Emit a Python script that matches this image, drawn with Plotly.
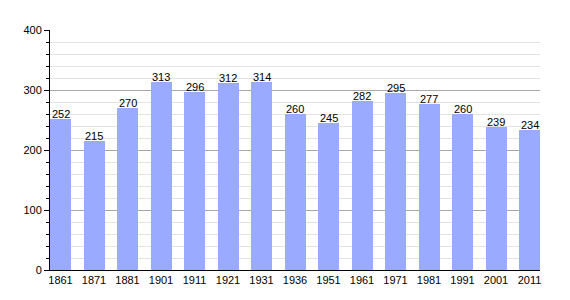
import plotly.graph_objects as go

years = ["1861", "1871", "1881", "1901", "1911", "1921", "1931", "1936",
         "1951", "1961", "1971", "1981", "1991", "2001", "2011"]
population = [252, 215, 270, 313, 296, 312, 314, 260, 245, 282, 295, 277, 260, 239, 234]

xpos = list(range(len(years)))
bw = 0.627

fig = go.Figure(go.Bar(
    x=xpos, y=population, width=bw,
    marker=dict(color="#99aaff", line=dict(width=0)),
    hoverinfo="x+y",
))

for xi, v in zip(xpos, population):
    fig.add_annotation(x=xi, y=v, text=str(v), showarrow=False,
                       yanchor="bottom", xanchor="center", yshift=-3,
                       font=dict(family="Liberation Sans, Arial", size=11, color="black"))

fig.update_layout(
    width=570, height=300,
    margin=dict(l=50, r=30, t=30, b=30),
    paper_bgcolor="white", plot_bgcolor="white",
    showlegend=False,
    bargap=0,
    font=dict(family="Liberation Sans, Arial", size=11, color="black"),
    xaxis=dict(
        range=[-bw / 2, len(years) - 1 + bw / 2],
        tickmode="array", tickvals=xpos, ticktext=years,
        showgrid=False, zeroline=False,
        showline=True, linecolor="black", linewidth=1,
        ticks="", ticklen=0,
        tickfont=dict(size=11),
    ),
    yaxis=dict(
        range=[0, 400], dtick=100,
        showgrid=True, gridcolor="#a8a8a8", gridwidth=1,
        zeroline=False,
        showline=True, linecolor="black", linewidth=1,
        ticks="outside", ticklen=5, tickcolor="black",
        tickfont=dict(size=11),
        minor=dict(dtick=20, showgrid=True, gridcolor="#e3e3e3",
                   ticks="outside", ticklen=3, tickcolor="black"),
    ),
)

fig.write_html("out.html")
